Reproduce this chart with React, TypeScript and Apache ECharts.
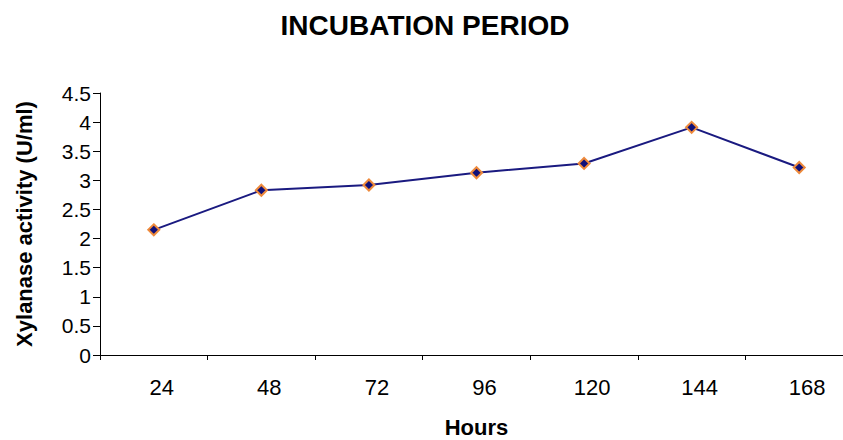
import React, { useEffect, useRef } from "react";
import * as echarts from "echarts";

const categories = ["24", "48", "72", "96", "120", "144", "168"];
const activity = [2.15, 2.83, 2.92, 3.13, 3.29, 3.91, 3.22];
const yMin = 0;
const yMax = 4.5;
const yStep = 0.5;

const FONT = "'Liberation Sans', Arial, sans-serif";

export default function App() {
  const ref = useRef<HTMLDivElement>(null);
  useEffect(() => {
    if (!ref.current) return;
    const chart = echarts.init(ref.current, undefined, { renderer: "svg" });
    chart.setOption({
      animation: false,
      backgroundColor: "#ffffff",
      title: {
        text: "INCUBATION PERIOD",
        left: 420,
        textAlign: "center",
        top: 6,
        textStyle: { fontFamily: FONT, fontSize: 28, fontWeight: "bold", color: "#000" },
      },
      grid: {
        left: 100,
        right: 7,
        top: 93,
        bottom: 85,
        containLabel: false,
        outerBoundsMode: "none",
      },
      xAxis: {
        type: "category",
        data: categories,
        boundaryGap: true,
        name: "Hours",
        nameLocation: "middle",
        nameGap: 61,
        nameTextStyle: { fontFamily: FONT, fontSize: 22, fontWeight: "bold", color: "#000" },
        axisLine: { lineStyle: { color: "#000", width: 1 } },
        axisTick: { show: true, length: 5, lineStyle: { color: "#000" } },
        axisLabel: {
          fontFamily: FONT,
          fontSize: 22,
          color: "#000",
          margin: 21,
          padding: [0, 0, 0, 16],
        },
        splitLine: { show: false },
      },
      yAxis: {
        type: "value",
        min: yMin,
        max: yMax,
        interval: yStep,
        name: "Xylanase activity (U/ml)",
        nameLocation: "middle",
        nameGap: 65,
        nameTextStyle: { fontFamily: FONT, fontSize: 22, fontWeight: "bold", color: "#000" },
        axisLine: { show: true, lineStyle: { color: "#000", width: 1 } },
        axisTick: { show: true, length: 7, lineStyle: { color: "#000" } },
        axisLabel: { fontFamily: FONT, fontSize: 21, color: "#000", margin: 9 },
        splitLine: { show: false },
      },
      series: [
        {
          type: "line",
          data: activity,
          symbol: "diamond",
          symbolSize: 11,
          lineStyle: { color: "#1a1a80", width: 2 },
          itemStyle: { color: "#10107a", borderColor: "#ee8a3c", borderWidth: 2 },
        },
      ],
    });
    return () => chart.dispose();
  }, []);
  return (
    <div
      style={{
        position: "absolute",
        left: 0,
        top: 0,
        width: 843,
        height: 440,
        overflow: "hidden",
        background: "#fff",
      }}
    >
      <div ref={ref} style={{ width: 860, height: 440 }} />
    </div>
  );
}
